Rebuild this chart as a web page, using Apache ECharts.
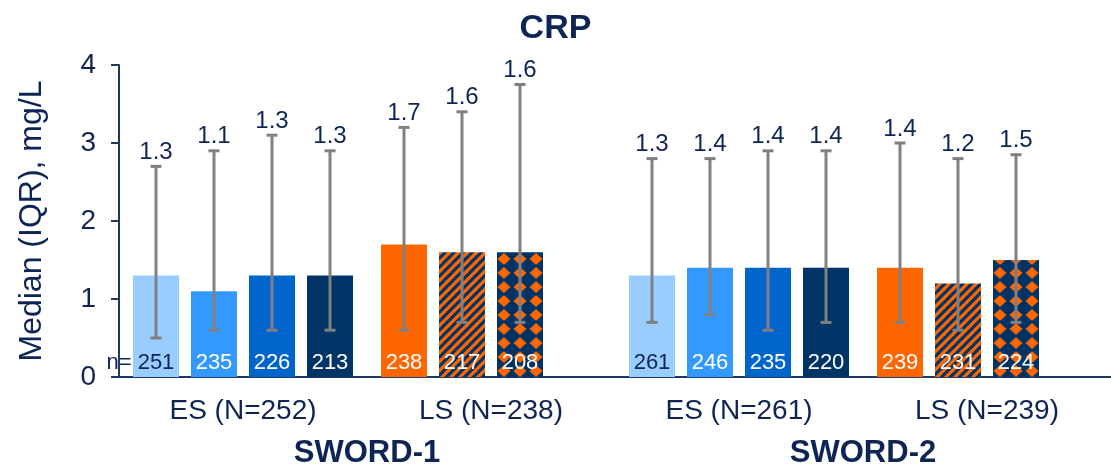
<!DOCTYPE html>
<html>
<head>
<meta charset="utf-8">
<script src="https://cdn.jsdelivr.net/npm/echarts@6/dist/echarts.min.js"></script>
<style>
  html, body { margin: 0; padding: 0; background: #ffffff; }
  #chart { width: 1111px; height: 469px; }
</style>
</head>
<body>
<div id="chart"></div>
<script>
// ---------- data ----------
const categories = ['ES (N=252)', 'LS (N=238)', 'ES (N=261)', 'LS (N=239)'];
const studies = ['SWORD-1', 'SWORD-2'];
const yTicks = [0, 1, 2, 3, 4];

const s1EsMedian = [1.3, 1.1, 1.3, 1.3];
const s1EsQ1 = [0.5, 0.6, 0.6, 0.6];
const s1EsQ3 = [2.7, 2.9, 3.1, 2.9];
const s1EsN = [251, 235, 226, 213];

const s1LsMedian = [1.7, 1.6, 1.6];
const s1LsQ1 = [0.6, 0.7, 0.7];
const s1LsQ3 = [3.2, 3.4, 3.75];
const s1LsN = [238, 217, 208];

const s2EsMedian = [1.3, 1.4, 1.4, 1.4];
const s2EsQ1 = [0.7, 0.8, 0.6, 0.7];
const s2EsQ3 = [2.8, 2.8, 2.9, 2.9];
const s2EsN = [261, 246, 235, 220];

const s2LsMedian = [1.4, 1.2, 1.5];
const s2LsQ1 = [0.7, 0.6, 0.7];
const s2LsQ3 = [3.0, 2.8, 2.85];
const s2LsN = [239, 231, 224];

// ---------- styles ----------
const NAVY_TEXT = '#0d2454';
const AXIS_COLOR = '#1f3864';
const ORANGE = '#ff6600';
const NAVY_BAR = '#003366';
const FONT = '"Liberation Sans", Arial, sans-serif';
const BAR_W = 46;
const BAR_GAP_PX = 12;
const PITCH = BAR_W + BAR_GAP_PX;

function stripeCanvas() {
  const s = 9;
  const c = document.createElement('canvas');
  c.width = s; c.height = s;
  const ctx = c.getContext('2d');
  ctx.fillStyle = NAVY_BAR;
  ctx.fillRect(0, 0, s, s);
  ctx.strokeStyle = ORANGE;
  ctx.lineWidth = 3.2;
  [0, s, 2 * s].forEach(function (p) {
    ctx.beginPath();
    ctx.moveTo(p - s - 1, s + 1);
    ctx.lineTo(p + 1, -1);
    ctx.stroke();
  });
  return c;
}
function diamondCanvas() {
  const w = 16, h = 14;
  const c = document.createElement('canvas');
  c.width = w; c.height = h;
  const ctx = c.getContext('2d');
  ctx.fillStyle = NAVY_BAR;
  ctx.fillRect(0, 0, w, h);
  ctx.fillStyle = ORANGE;
  const cx = w / 2, cy = h / 2, rx = 6.5, ry = 6;
  ctx.beginPath();
  ctx.moveTo(cx, cy - ry);
  ctx.lineTo(cx + rx, cy);
  ctx.lineTo(cx, cy + ry);
  ctx.lineTo(cx - rx, cy);
  ctx.closePath();
  ctx.fill();
  return c;
}
const stripePattern = { image: stripeCanvas(), repeat: 'repeat' };
const diamondPattern = { image: diamondCanvas(), repeat: 'repeat' };

const esColors = ['#99ccff', '#3399ff', '#0066cc', NAVY_BAR];
const esTextColors = [NAVY_TEXT, '#ffffff', '#ffffff', '#ffffff'];
const lsColors = [ORANGE, stripePattern, diamondPattern];
const lsTextColors = ['#ffffff', '#ffffff', '#ffffff'];

const groups = [
  { median: s1EsMedian, q1: s1EsQ1, q3: s1EsQ3, n: s1EsN, colors: esColors, text: esTextColors },
  { median: s1LsMedian, q1: s1LsQ1, q3: s1LsQ3, n: s1LsN, colors: lsColors, text: lsTextColors },
  { median: s2EsMedian, q1: s2EsQ1, q3: s2EsQ3, n: s2EsN, colors: esColors, text: esTextColors },
  { median: s2LsMedian, q1: s2LsQ1, q3: s2LsQ3, n: s2LsN, colors: lsColors, text: lsTextColors }
];

// ---------- series ----------
const series = [];
for (let s = 0; s < 4; s++) {
  const data = groups.map(function (g, c) {
    if (g.median[s] == null) return '-';
    const isFirst = (c === 0 && s === 0);
    return {
      value: g.median[s],
      itemStyle: { color: g.colors[s] },
      label: {
        show: true,
        position: 'insideBottom',
        distance: 3,
        formatter: isFirst ? '{p|n= }{v|' + g.n[s] + '}{q|}' : String(g.n[s]),
        color: g.text[s],
        fontSize: 22,
        fontFamily: FONT,
        rich: isFirst ? {
          p: { width: 31, align: 'right', fontSize: 22, fontFamily: FONT, color: NAVY_TEXT },
          v: { fontSize: 22, fontFamily: FONT, color: NAVY_TEXT },
          q: { width: 31, fontSize: 22 }
        } : undefined
      }
    };
  });
  series.push({
    type: 'bar',
    name: 'slot' + s,
    data: data,
    barWidth: BAR_W,
    barGap: (BAR_GAP_PX / BAR_W * 100) + '%',
    silent: true,
    animation: false
  });
}

const errData = [];
groups.forEach(function (g, c) {
  for (let s = 0; s < g.median.length; s++) {
    errData.push([c, s, g.q1[s], g.q3[s], g.median[s]]);
  }
});

series.push({
  type: 'custom',
  data: errData,
  encode: { x: 0, y: [2, 3] },
  z: 5,
  silent: true,
  animation: false,
  renderItem: function (params, api) {
    const c = api.value(0);
    const s = api.value(1);
    const lo = api.coord([c, api.value(2)]);
    const hi = api.coord([c, api.value(3)]);
    const x = lo[0] + (s - 1.5) * PITCH;
    const cap = 5.5;
    const st = { stroke: '#808080', lineWidth: 3 };
    return {
      type: 'group',
      children: [
        { type: 'line', shape: { x1: x, y1: lo[1], x2: x, y2: hi[1] }, style: st },
        { type: 'line', shape: { x1: x - cap, y1: lo[1], x2: x + cap, y2: lo[1] }, style: st },
        { type: 'line', shape: { x1: x - cap, y1: hi[1], x2: x + cap, y2: hi[1] }, style: st },
        {
          type: 'text',
          style: {
            text: api.value(4).toFixed(1),
            x: x,
            y: hi[1] - 2,
            align: 'center',
            verticalAlign: 'bottom',
            fontSize: 24,
            fontFamily: FONT,
            fill: NAVY_TEXT
          }
        }
      ]
    };
  }
});

const option = {
  backgroundColor: '#ffffff',
  animation: false,
  title: {
    text: 'CRP',
    left: 'center',
    top: 7,
    textStyle: { fontSize: 34, fontWeight: 'bold', fontFamily: FONT, color: NAVY_TEXT }
  },
  grid: { left: 119, right: -11, top: 65, bottom: 90, containLabel: false },
  xAxis: [
    {
      type: 'category',
      data: categories,
      axisLine: { show: true, lineStyle: { color: AXIS_COLOR, width: 2 } },
      axisTick: { show: false },
      axisLabel: { fontSize: 28, fontFamily: FONT, color: NAVY_TEXT, margin: 20 }
    },
    {
      type: 'category',
      data: studies,
      position: 'bottom',
      gridIndex: 0,
      axisLine: { show: false },
      axisTick: { show: false },
      axisLabel: { fontSize: 31, fontWeight: 'bold', fontFamily: FONT, color: NAVY_TEXT, margin: 61 }
    }
  ],
  yAxis: {
    type: 'value',
    min: yTicks[0],
    max: yTicks[yTicks.length - 1],
    interval: 1,
    name: 'Median (IQR), mg/L',
    nameLocation: 'middle',
    nameRotate: 90,
    nameGap: 71,
    nameTextStyle: { fontSize: 32, fontFamily: FONT, color: NAVY_TEXT },
    axisLine: { show: true, lineStyle: { color: AXIS_COLOR, width: 2 } },
    axisTick: { show: true, length: 8, lineStyle: { color: AXIS_COLOR, width: 2 } },
    axisLabel: { fontSize: 28, fontFamily: FONT, color: NAVY_TEXT, margin: 23 },
    splitLine: { show: false }
  },
  series: series
};

const chart = echarts.init(document.getElementById('chart'), null, { renderer: 'canvas' });
chart.setOption(option);
</script>
</body>
</html>
